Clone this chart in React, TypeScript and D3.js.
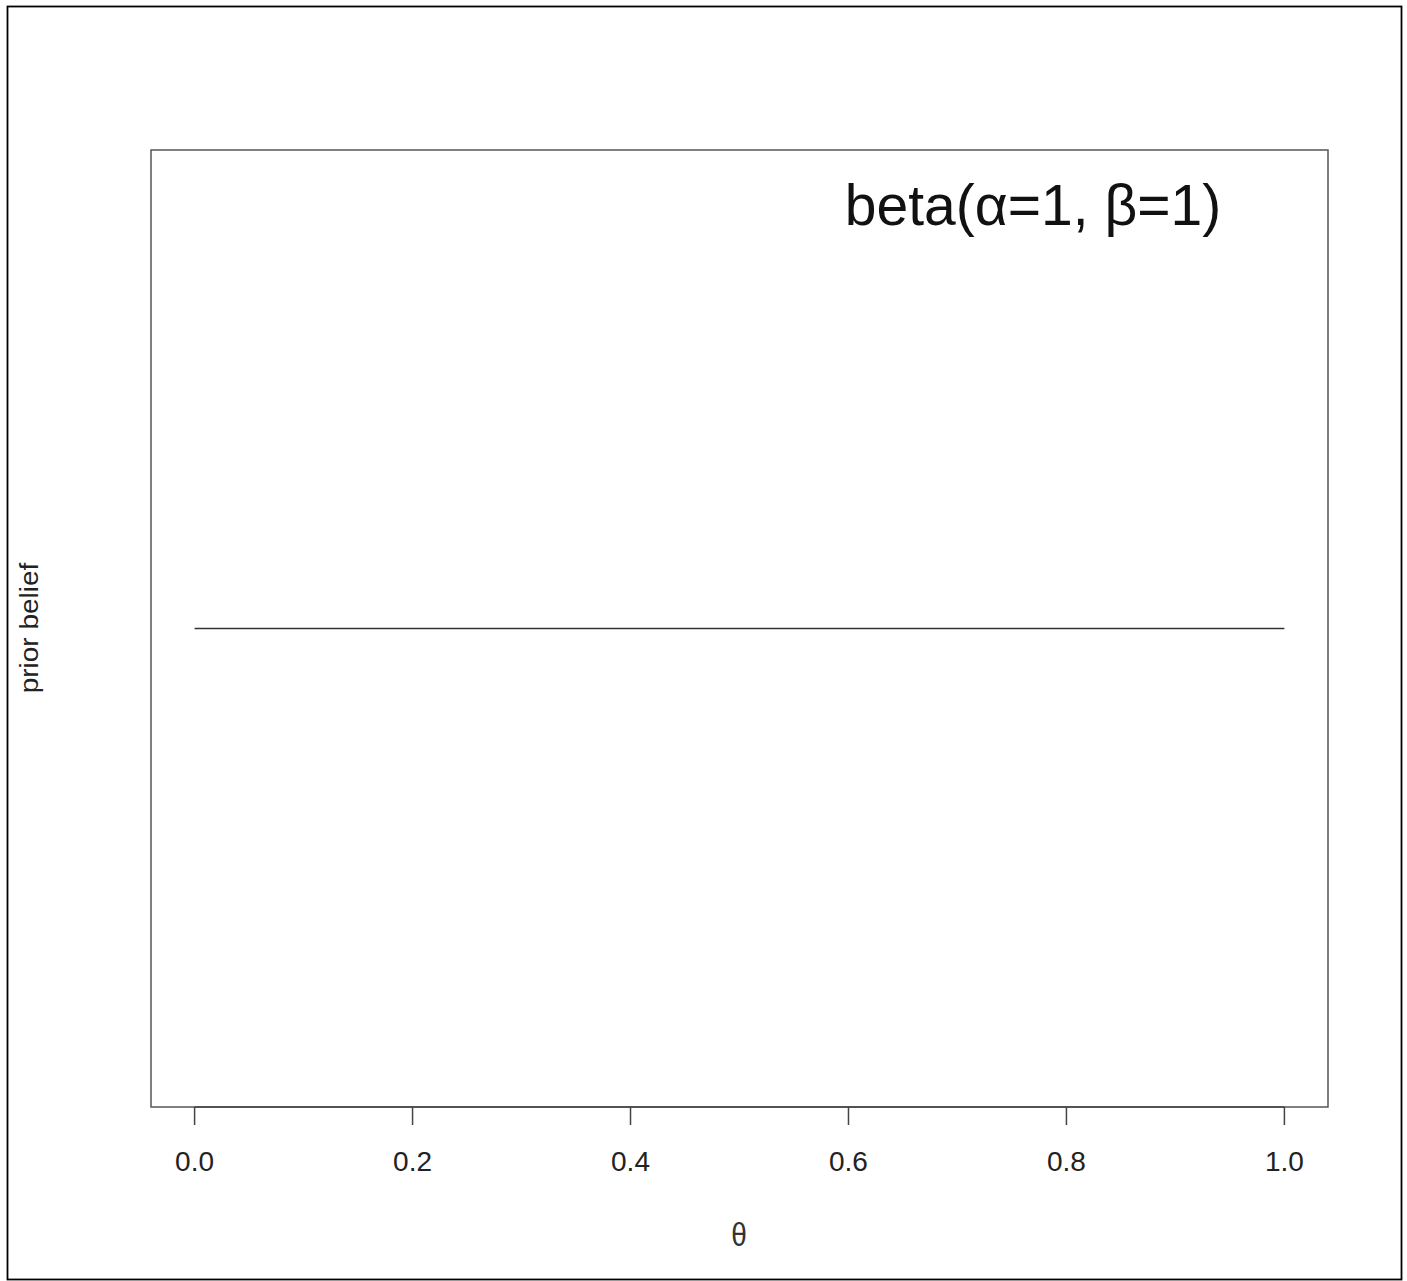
import React from "react";
import * as d3 from "d3";

const thetaValues = [0, 0.25, 0.5, 0.75, 1];
const densityValues = [1, 1, 1, 1, 1];
const xTicks = [0, 0.2, 0.4, 0.6, 0.8, 1.0];
const yDomain = [0, 2];
const titleText = "beta(α=1, β=1)";
const xLabel = "θ";
const yLabel = "prior belief";

export default function App() {
  const W = 1407, H = 1281;
  const box = { left: 151, top: 150, right: 1328, bottom: 1107 };
  const xPad = (box.right - box.left) * 0.04 / 1.08;
  const yPad = (box.bottom - box.top) * 0.04 / 1.08;
  const x = d3.scaleLinear().domain([0, 1]).range([box.left + xPad, box.right - xPad]);
  const y = d3.scaleLinear().domain(yDomain).range([box.bottom - yPad, box.top + yPad]);
  const line = d3.line<number>().x((_, i) => x(thetaValues[i])).y((d) => y(d));
  const font = "'Liberation Sans', Arial, Helvetica, sans-serif";
  return (
    <svg width={W} height={H} style={{ position: "absolute", left: 0, top: 0, background: "#fff" }} fontFamily={font}>
      <rect x={7.5} y={6.5} width={1394} height={1273} fill="#fff" stroke="#000" strokeWidth={1.8} />
      <rect x={box.left} y={box.top} width={box.right - box.left} height={box.bottom - box.top} fill="none" stroke="#555" strokeWidth={1.5} />
      <path d={line(densityValues) || ""} fill="none" stroke="#333" strokeWidth={1.3} />
      <line x1={x(0)} x2={x(1)} y1={box.bottom} y2={box.bottom} stroke="#444" strokeWidth={1.5} />
      {xTicks.map((t) => (
        <g key={t}>
          <line x1={x(t)} x2={x(t)} y1={box.bottom} y2={box.bottom + 18} stroke="#444" strokeWidth={1.5} />
          <text x={x(t)} y={1171} textAnchor="middle" fontSize={28} fill="#222">{t.toFixed(1)}</text>
        </g>
      ))}
      <text transform="translate(739, 1246) scale(0.85, 1)" textAnchor="middle" fontSize={33} fill="#333">{xLabel}</text>
      <text transform="translate(38, 628) rotate(-90) scale(1, 0.9)" textAnchor="middle" fontSize={28} fill="#222">{yLabel}</text>
      <text x={1033} y={225} textAnchor="middle" fontSize={57} fill="#111">{titleText}</text>
    </svg>
  );
}
